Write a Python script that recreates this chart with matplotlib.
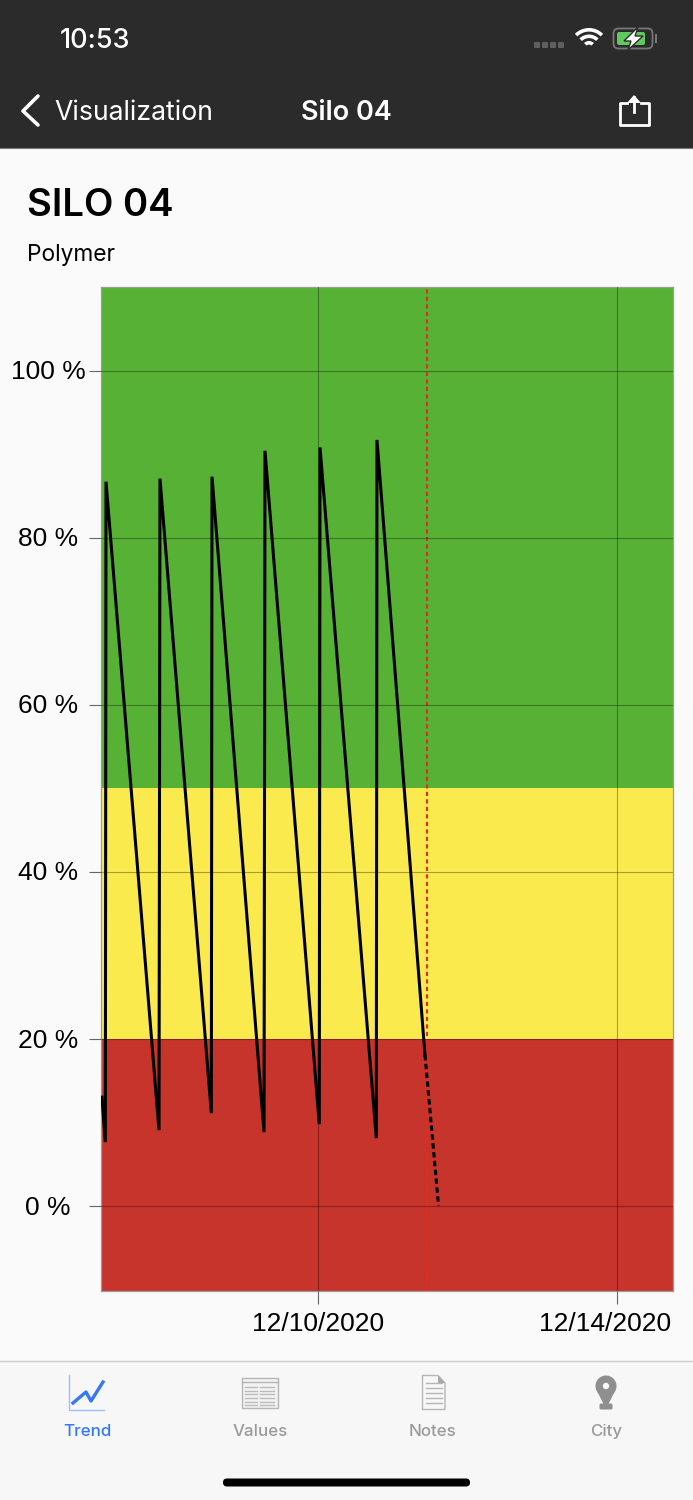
import matplotlib
matplotlib.use('Agg')
import matplotlib.pyplot as plt
from matplotlib.patches import Rectangle, FancyBboxPatch, Polygon, Wedge, Circle

# Colors
BG = '#fafafa'
BAR_DARK = '#2b2b2b'
TAB_BG = '#f7f7f7'
GREEN = '#57b135'
YELLOW = '#fbea4e'
RED = '#c6342b'
BLUE = '#3478f6'
GRAY = '#9a9a9a'

UI_FONT = 'Inter'
CHART_FONT = 'Liberation Sans'

# Level in percent, x is days from 12/10/2020
days = [-2.890, -2.845, -2.836, -2.127, -2.114, -1.427, -1.418, -0.722, -0.709,
        0.017, 0.027, 0.780, 0.789, 1.431]
level = [13.05, 7.66, 86.7, 9.1, 87.07, 11.14, 87.3, 8.86, 90.4,
         9.82, 90.8, 8.14, 91.7, 18.1]
forecast_days = [1.431, 1.612]
forecast_level = [18.1, 0.1]
now_day = 1.458

# Bands: (bottom, top)
bands = [(50, 110, GREEN), (20, 50, YELLOW), (-10.15, 20, RED)]
y_ticks = [0, 20, 40, 60, 80, 100]
y_labels = ['0 %', '20 %', '40 %', '60 %', '80 %', '100 %']
x_ticks = [0, 4]
x_labels = ['12/10/2020', '12/14/2020']

W, H = 693, 1500
fig = plt.figure(figsize=(W / 100, H / 100), dpi=100, facecolor=BG)

# Full figure axes in pixel coordinates for the phone screen around the chart
ui = fig.add_axes([0, 0, 1, 1], zorder=0)
ui.set_xlim(0, W)
ui.set_ylim(H, 0)
ui.axis('off')


def ui_text(x, y, s, size, color='black', weight='normal', ha='left', family=UI_FONT):
    ui.text(x, y, s, fontsize=size, color=color, fontweight=weight, ha=ha, va='baseline', family=family)


# Top bars
ui.add_patch(Rectangle((0, 0), W, 148, color=BAR_DARK, lw=0))
ui.plot([0, W], [147.5, 147.5], color='#777777', lw=0.8)
ui_text(60, 48, '10:53', 19.5, 'white', 'medium')
ui_text(54, 120, 'Visualization', 19.2, 'white')
ui_text(346, 120, 'Silo 04', 19.5, 'white', 'semibold', ha='center')
ui.plot([38, 23, 38], [96, 111, 125], color='white', lw=2.6, solid_capstyle='round')

# Share icon
ui.plot([627, 619.5, 619.5, 648.5, 648.5, 641], [103, 103, 125, 125, 103, 103], color='white', lw=2)
ui.plot([634, 634], [97, 112], color='white', lw=2)
ui.add_patch(Polygon([[627, 103], [634, 95], [641, 103]], color='white', lw=0))

# Status icons
for dot_x in [534, 542, 550, 558]:
    ui.add_patch(FancyBboxPatch((dot_x + 1, 43), 4, 4, boxstyle='round,pad=1', color='#5f5f5f', lw=0))
for r in [20, 13.5, 7]:
    ui.add_patch(Wedge((589, 48), r, 225, 315, width=3.6, color='white', lw=0))
ui.add_patch(FancyBboxPatch((615, 30), 36, 17, boxstyle='round,pad=1.5,rounding_size=5',
                            fc='none', ec='#777777', lw=1.3))
ui.add_patch(FancyBboxPatch((617, 32), 28, 13, boxstyle='round,pad=0,rounding_size=2', color='#5fc85f', lw=0))
ui.add_patch(Rectangle((655, 34), 2, 9, color='#777777', lw=0))
ui.add_patch(Polygon([[638, 27], [624, 41], [631, 41], [628, 50], [643, 36], [635, 36]],
                     fc='white', ec=BAR_DARK, lw=1))

# Heading
ui_text(27, 216, 'SILO 04', 27.6, 'black', 'semibold')
ui_text(27, 261, 'Polymer', 16.4, 'black')

# Chart, plot area is x 101-673, y 287-1291 in pixels
ax = fig.add_axes([101 / W, 1 - 1291 / H, 572 / W, 1004 / H], zorder=1)
ax.set_xlim(-2.903, 4.749)
ax.set_ylim(-10.15, 110)
for low, high, color in bands:
    ax.axhspan(low, high, color=color, lw=0, zorder=0)
ax.grid(True, color='black', alpha=0.33, lw=0.8, zorder=1)
ax.set_axisbelow(False)
ax.axvline(now_day, color='#e62a1c', lw=1.5, ls=(0, (2, 1.6)), zorder=2)
ax.plot(days, level, color='black', lw=2.2, solid_joinstyle='miter', zorder=3)
ax.plot(forecast_days, forecast_level, color='black', lw=2.2, ls=(0, (1.8, 1.1)), zorder=3)

ax.set_yticks(y_ticks)
ax.set_xticks(x_ticks)
ax.set_yticklabels([])
ax.set_xticklabels([])
ax.tick_params(axis='y', length=8.6, width=0.8, color='#666666')
ax.tick_params(axis='x', length=9.4, width=0.8, color='#666666')
for s in ax.spines.values():
    s.set_color('#9c9c9c')
    s.set_linewidth(0.9)

# Tick labels are centred in the margin, the last date is pushed inside the screen
for v, lab in zip(y_ticks, y_labels):
    ax.annotate(lab, xy=(0, v), xycoords=('axes fraction', 'data'), xytext=(48 - 101, -1.5),
                textcoords='offset pixels', ha='center', va='center',
                fontsize=19, family=CHART_FONT, annotation_clip=False)
ui_text(318, 1331, x_labels[0], 19, ha='center', family=CHART_FONT)
ui_text(605.5, 1331, x_labels[1], 19, ha='center', family=CHART_FONT)

# Tab bar
ui.add_patch(Rectangle((0, 1360), W, 140, color=TAB_BG, lw=0))
ui.plot([0, W], [1360.5, 1360.5], color='#cfcfcf', lw=1)
for tab_x, name, col in [(87, 'Trend', BLUE), (260, 'Values', GRAY), (433, 'Notes', GRAY), (606, 'City', GRAY)]:
    ui_text(tab_x, 1436, name, 12.2, col, 'medium', ha='center')

# Trend icon
ui.plot([69, 69, 104], [1375, 1410, 1410], color='#9dc1fb', lw=1)
ui.plot([73, 86, 91, 103], [1403, 1392, 1401, 1382], color=BLUE, lw=2.4)

# Values icon
ui.add_patch(Rectangle((241.5, 1377.5), 36, 30, fc='#f2f2f2', ec='#b5b5b5', lw=1))
ui.plot([241.5, 277.5], [1382, 1382], color='#b5b5b5', lw=1)
for row_y in [1387, 1390.5, 1394, 1398, 1401.5, 1405]:
    ui.plot([245, 257], [row_y, row_y], color='#bcbcbc', lw=1)
    ui.plot([260, 274], [row_y, row_y], color='#bcbcbc', lw=1)

# Notes icon
ui.add_patch(Polygon([[422.5, 1375.5], [438, 1375.5], [445, 1383], [445, 1409.5], [422.5, 1409.5]],
                     fc='#f7f7f7', ec='#b5b5b5', lw=1))
ui.add_patch(Polygon([[438, 1375.5], [445, 1383], [438, 1383]], color='#a8a8a8', lw=0))
for row_y in [1383, 1388, 1393, 1398, 1403]:
    ui.plot([426, 442], [row_y, row_y], color='#b5b5b5', lw=1)

# City pin
ui.add_patch(Circle((606, 1386), 10.5, color='#8f8f8f', lw=0))
ui.add_patch(Polygon([[596.5, 1390], [615.5, 1390], [608, 1405], [604, 1405]], color='#8f8f8f', lw=0))
ui.add_patch(Circle((606, 1386), 3.2, color=TAB_BG, lw=0))
ui.add_patch(FancyBboxPatch((601, 1405), 10, 3, boxstyle='round,pad=1.5', color='#8f8f8f', lw=0))

# Home indicator
ui.add_patch(FancyBboxPatch((223, 1478.5), 247, 8, boxstyle='round,pad=0,rounding_size=4', color='black', lw=0))

fig.savefig('out.png', dpi=100, facecolor=BG)
